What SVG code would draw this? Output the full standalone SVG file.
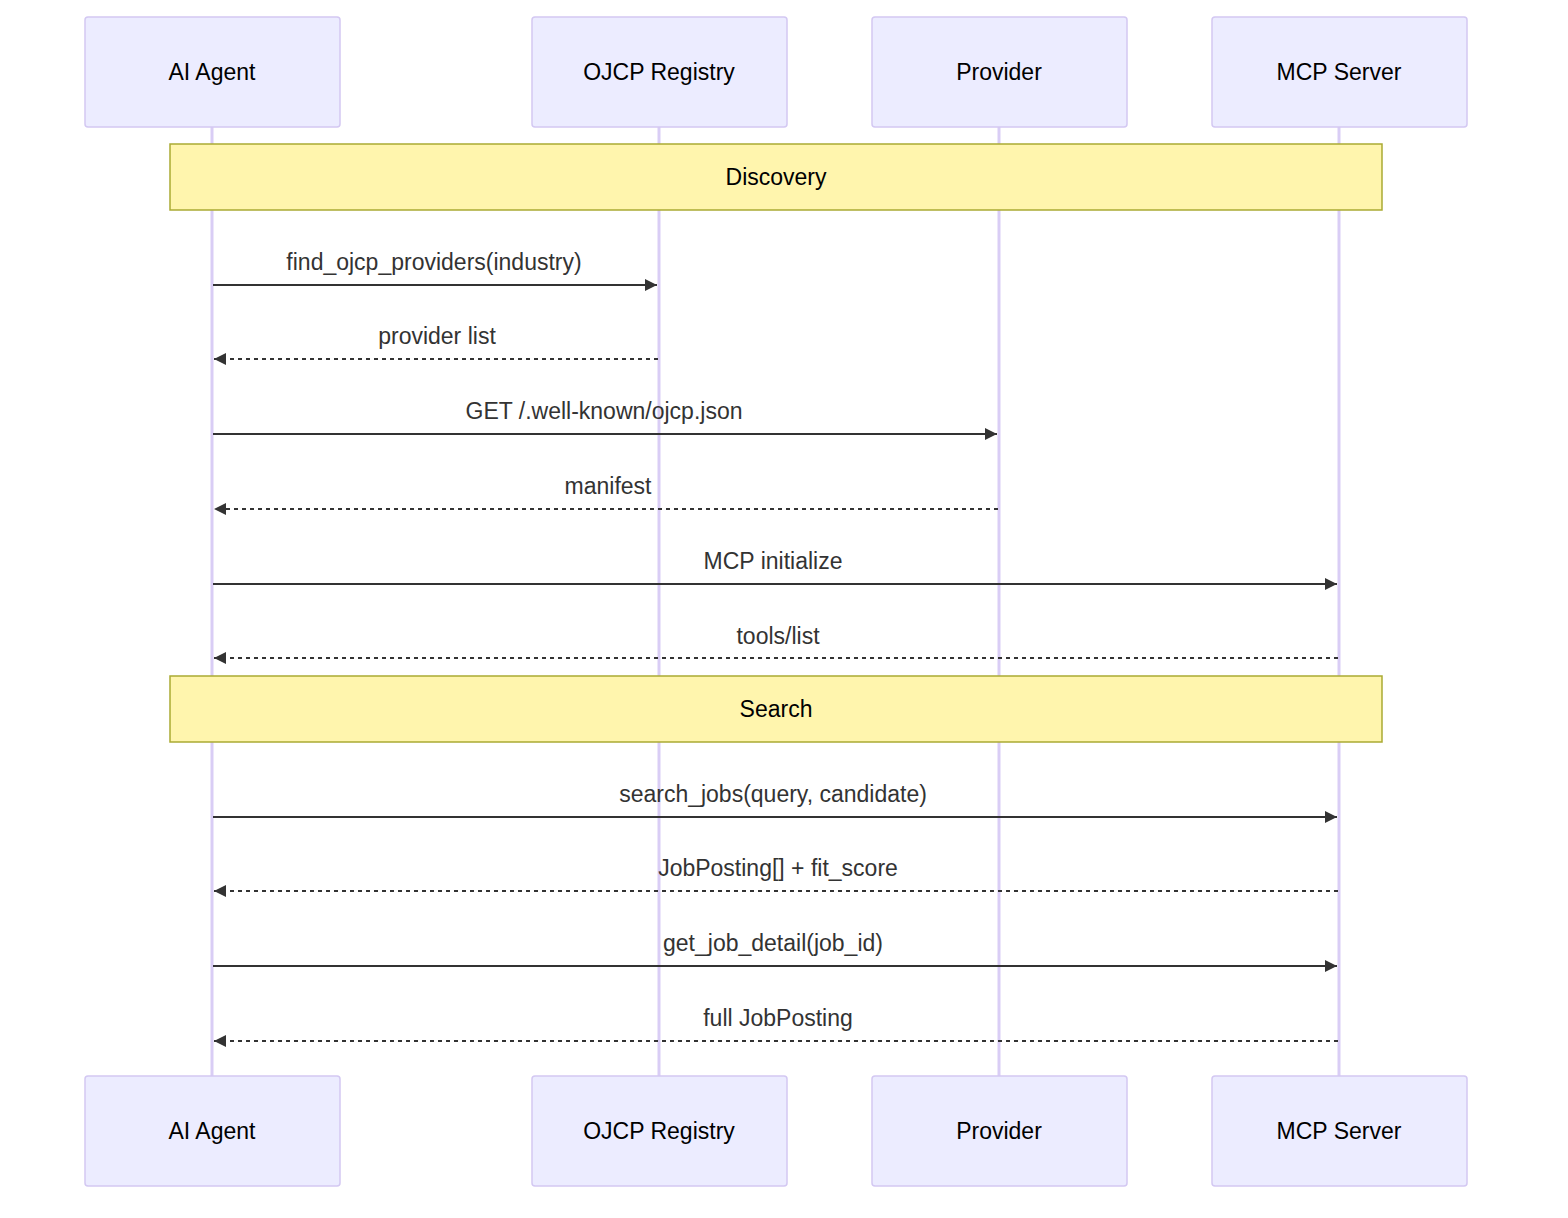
<svg xmlns="http://www.w3.org/2000/svg" width="1568" height="1218" viewBox="0 0 1568 1218">
<style>
.actor{fill:#ececff;stroke:#d3c8f2;stroke-width:1.5}
.life{stroke:#d9cdf5;stroke-width:3}
.at{font-family:"Liberation Sans",Arial,sans-serif;font-size:23px;fill:#000;text-anchor:middle;dominant-baseline:central}
.note{fill:#fff5ad;stroke:#aaaa33;stroke-width:1.5}
.nt{font-family:"Liberation Sans",Arial,sans-serif;font-size:23px;fill:#000;text-anchor:middle;dominant-baseline:central}
.msg{stroke:#333;stroke-width:2;fill:none}
.dash{stroke-dasharray:4,4}
.mt{font-family:"Liberation Sans",Arial,sans-serif;font-size:23px;fill:#333;text-anchor:middle}
</style>
<defs>
<marker id="ah" viewBox="0 0 12 12" refX="12" refY="6" markerWidth="12" markerHeight="12" markerUnits="userSpaceOnUse" orient="auto"><path d="M0,0 L12,6 L0,12 z" fill="#333"/></marker>
</defs>
<rect width="1568" height="1218" fill="#fff"/>
<g id="lifelines">
<line class="life" x1="212" y1="127" x2="212" y2="1076"/>
<line class="life" x1="659" y1="127" x2="659" y2="1076"/>
<line class="life" x1="999" y1="127" x2="999" y2="1076"/>
<line class="life" x1="1339" y1="127" x2="1339" y2="1076"/>
</g>
<g id="agent"><rect class="actor" x="85" y="17" width="255" height="110" rx="3"/><text class="at" x="212" y="72">AI Agent</text>
<rect class="actor" x="85" y="1076" width="255" height="110" rx="3"/><text class="at" x="212" y="1131">AI Agent</text></g>
<g id="registry"><rect class="actor" x="532" y="17" width="255" height="110" rx="3"/><text class="at" x="659" y="72">OJCP Registry</text>
<rect class="actor" x="532" y="1076" width="255" height="110" rx="3"/><text class="at" x="659" y="1131">OJCP Registry</text></g>
<g id="provider"><rect class="actor" x="872" y="17" width="255" height="110" rx="3"/><text class="at" x="999" y="72">Provider</text>
<rect class="actor" x="872" y="1076" width="255" height="110" rx="3"/><text class="at" x="999" y="1131">Provider</text></g>
<g id="mcp"><rect class="actor" x="1212" y="17" width="255" height="110" rx="3"/><text class="at" x="1339" y="72">MCP Server</text>
<rect class="actor" x="1212" y="1076" width="255" height="110" rx="3"/><text class="at" x="1339" y="1131">MCP Server</text></g>
<g id="note-discovery"><rect class="note" x="170" y="144" width="1212" height="66"/><text class="nt" x="776" y="177">Discovery</text></g>
<g id="note-search"><rect class="note" x="170" y="676" width="1212" height="66"/><text class="nt" x="776" y="709">Search</text></g>
<g id="connectors">
<line class="msg" x1="213" y1="285" x2="657" y2="285" marker-end="url(#ah)"/><text class="mt" x="434" y="270">find_ojcp_providers(industry)</text>
<line class="msg dash" x1="658" y1="359" x2="214" y2="359" marker-end="url(#ah)"/><text class="mt" x="437" y="344">provider list</text>
<line class="msg" x1="213" y1="434" x2="997" y2="434" marker-end="url(#ah)"/><text class="mt" x="604" y="419">GET /.well-known/ojcp.json</text>
<line class="msg dash" x1="998" y1="509" x2="214" y2="509" marker-end="url(#ah)"/><text class="mt" x="608" y="494">manifest</text>
<line class="msg" x1="213" y1="584" x2="1337" y2="584" marker-end="url(#ah)"/><text class="mt" x="773" y="569">MCP initialize</text>
<line class="msg dash" x1="1338" y1="658" x2="214" y2="658" marker-end="url(#ah)"/><text class="mt" x="778" y="644">tools/list</text>
<line class="msg" x1="213" y1="817" x2="1337" y2="817" marker-end="url(#ah)"/><text class="mt" x="773" y="802">search_jobs(query, candidate)</text>
<line class="msg dash" x1="1338" y1="891" x2="214" y2="891" marker-end="url(#ah)"/><text class="mt" x="778" y="876">JobPosting[] + fit_score</text>
<line class="msg" x1="213" y1="966" x2="1337" y2="966" marker-end="url(#ah)"/><text class="mt" x="773" y="951">get_job_detail(job_id)</text>
<line class="msg dash" x1="1338" y1="1041" x2="214" y2="1041" marker-end="url(#ah)"/><text class="mt" x="778" y="1026">full JobPosting</text>
</g>
</svg>
